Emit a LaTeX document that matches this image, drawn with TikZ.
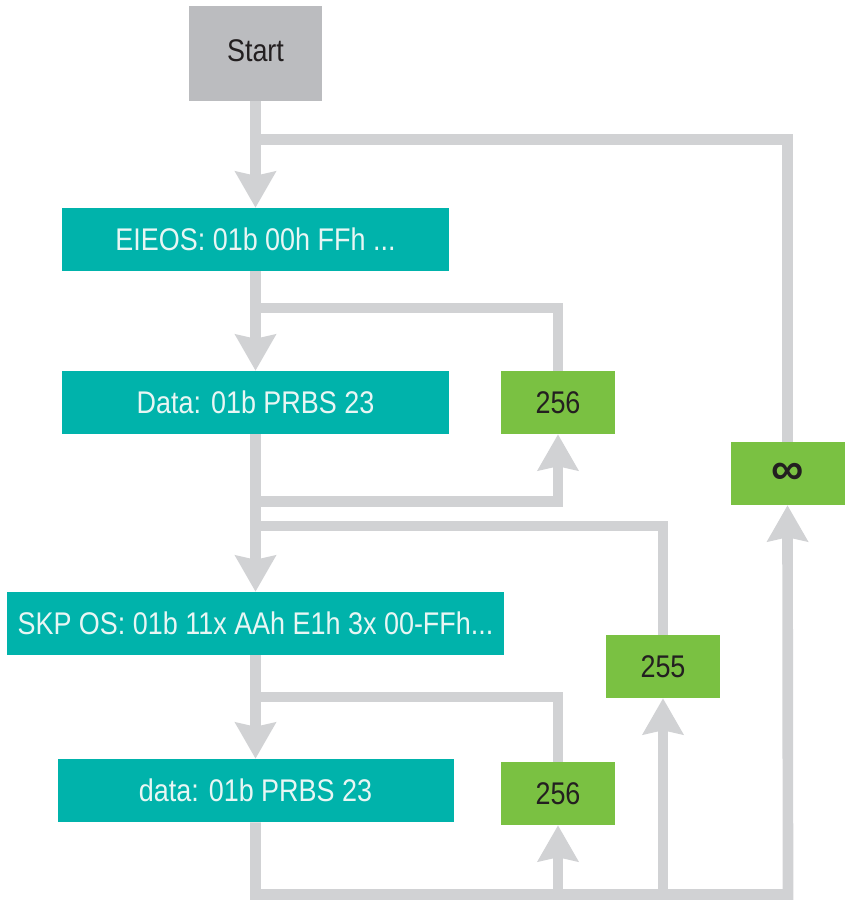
\documentclass[tikz,border=0pt]{standalone}
\usepackage{fontspec}
\setmainfont{Liberation Sans}[FakeStretch=0.86]
\newfontfamily\symfont{Liberation Sans}
\usepackage{xcolor}
\usepackage{tikz}
\usetikzlibrary{arrows.meta}
\usetikzlibrary{positioning}

\definecolor{boxgray}{RGB}{187,188,191}
\definecolor{boxteal}{RGB}{0,179,171}
\definecolor{boxgreen}{RGB}{122,193,66}
\definecolor{linegray}{RGB}{209,210,212}
\definecolor{txtdark}{RGB}{35,31,32}
\definecolor{txtlight}{RGB}{232,246,244}

\tikzset{
  flow/.style={draw=linegray, line width=8pt},
  flowarrow/.style={flow, -{Stealth[length=27pt,width=30pt,inset=3pt]}},
  startbox/.style={fill=boxgray, text=txtdark, minimum width=100pt, minimum height=71.5pt, inner sep=0pt, font=\fontsize{23.5}{26}\selectfont},
  patbox/.style={fill=boxteal, text=txtlight, minimum height=47.25pt, inner sep=0pt, font=\fontsize{23.5}{26}\selectfont},
  cntbox/.style={fill=boxgreen, text=txtdark, minimum width=85.5pt, minimum height=47.25pt, inner sep=0pt, font=\fontsize{23.5}{26}\selectfont},
}

\begin{document}
\begin{tikzpicture}[x=0.75pt,y=0.75pt,yscale=-1,xscale=1]
\useasboundingbox (0,0) rectangle (844,900);

%Shape: Start
\node [startbox] (start) at (255.5,53.5) {\raisebox{4pt}{Start}};
%Shape: pattern boxes
\node [patbox, minimum width=290.25pt] (eieos) at (255.5,239.5) {EIEOS: 01b 00h FFh ...};
\node [patbox, minimum width=290.25pt] (data1) at (255.5,402.5) {Data: 01b PRBS 23};
\node [patbox, minimum width=372.75pt] (skp) at (255.5,623.5) {SKP OS: 01b 11x AAh E1h 3x 00-FFh...};
\node [patbox, minimum width=297pt] (data2) at (255.5,790.5) {data: 01b PRBS 23};
%Shape: repeat counts
\node [cntbox] (c256a) at (558,402.5) {256};
\node [cntbox] (inf) at (787.5,473.5) {\symfont\bfseries\fontsize{34}{34}\selectfont ∞};
\node [cntbox] (c255) at (663,666.5) {255};
\node [cntbox] (c256b) at (558,793.5) {256};

%Junctions on the main line
\coordinate (jA) at (255.5,139.5);
\coordinate (jB) at (255.5,308);
\coordinate (jC) at (255.5,501.5);
\coordinate (jD) at (255.5,526);
\coordinate (jE) at (255.5,697);
\coordinate (bot) at (788,894.5);

%Main flow
\draw [flowarrow] (start) -- (eieos);
\draw [flowarrow] (eieos) -- (data1);
\draw [flowarrow] (data1) -- (skp);
\draw [flowarrow] (skp) -- (data2);
\draw [flowarrow] (data2.south) |- (bot) -- (inf.south);

%Loops back
\draw [flow] (inf.north) |- (jA);
\draw [flow] (c256a.north) |- (jB);
\draw [flowarrow] (jC) -| (c256a.south);
\draw [flow] (c255.north) |- (jD);
\draw [flow] (c256b.north) |- (jE);
\draw [flowarrow] (c256b.south |- bot) -- (c256b.south);
\draw [flowarrow] (c255.south |- bot) -- (c255.south);

\end{tikzpicture}
\end{document}
